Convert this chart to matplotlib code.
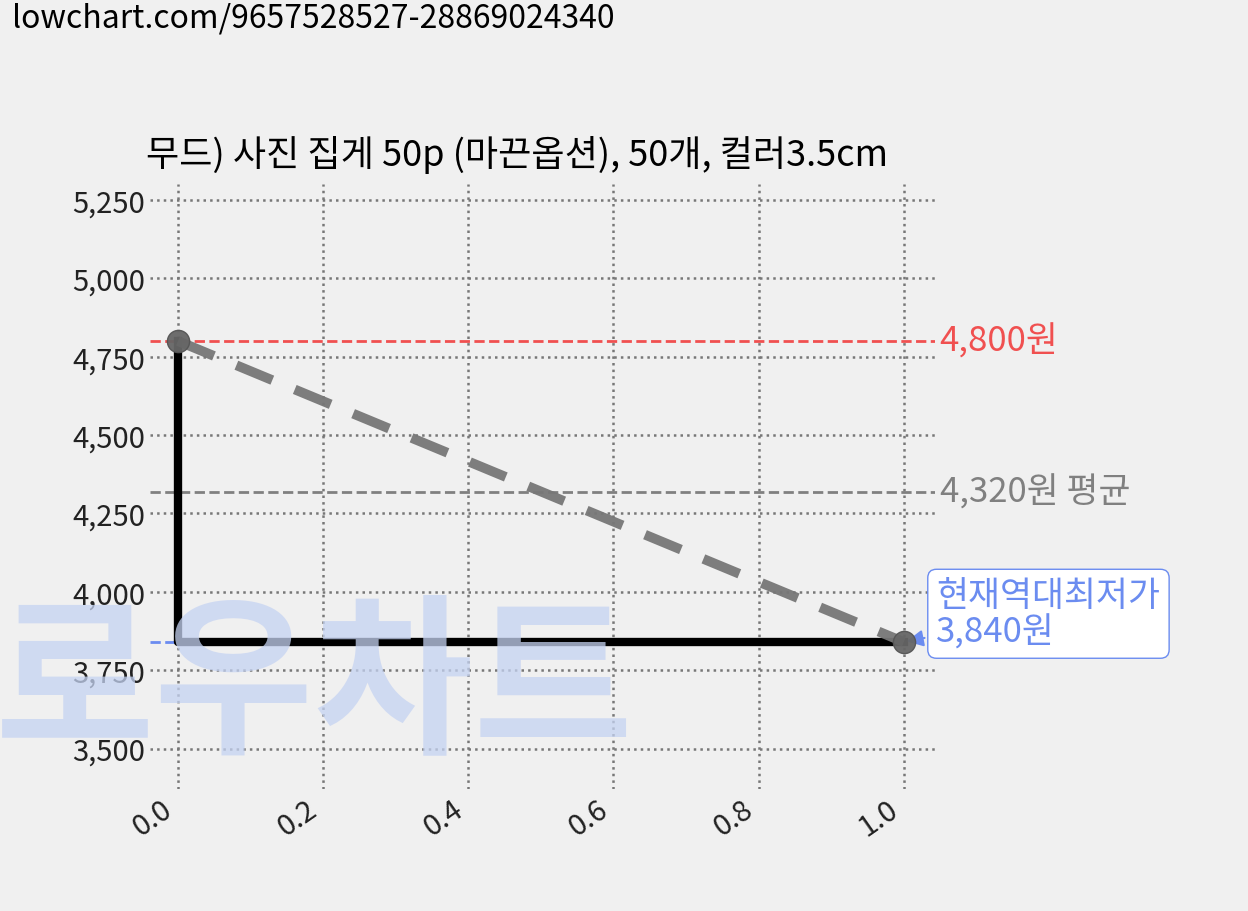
import matplotlib
matplotlib.use("Agg")
import matplotlib.pyplot as plt

plt.rcParams['font.family'] = ['Noto Sans CJK KR', 'DejaVu Sans']

xs = [0.0, 1.0]
prices = [4800, 3840]
max_price = 4800
avg_price = 4320
min_price = 3840
title = "무드) 사진 집게 50p (마끈옵션), 50개, 컬러3.5cm"
url = "lowchart.com/9657528527-28869024340"

fig = plt.figure(figsize=(12.48, 9.12), dpi=100, facecolor='#f0f0f0')
ax = fig.add_axes([150/1248, 1-790/912, (935-150)/1248, (790-185)/912])
ax.set_facecolor('#f0f0f0')
ax.set_xlim(-0.0386, 1.043)
ax.set_ylim(3371, 5301)

fig.text(-5/1248, 1-688/912, "로우차트", fontsize=125, color='#c5d3f2', alpha=0.75,
         fontweight='black', ha='left', va='center', zorder=0)

ax.grid(True, linestyle=':', color='#777777', linewidth=1.8)
for s in ax.spines.values():
    s.set_visible(False)
ax.tick_params(length=0, labelsize=21, colors='#222222')
ax.set_yticks([3500, 3750, 4000, 4250, 4500, 4750, 5000, 5250])
ax.set_yticklabels([f"{v:,}" for v in [3500, 3750, 4000, 4250, 4500, 4750, 5000, 5250]])
ax.set_xticks([0, 0.2, 0.4, 0.6, 0.8, 1.0])
ax.set_xticklabels(["0.0", "0.2", "0.4", "0.6", "0.8", "1.0"], rotation=35, ha='right')

ax.axhline(max_price, color='#f05050', linestyle='--', linewidth=2)
ax.axhline(avg_price, color='#808080', linestyle='--', linewidth=2)
ax.plot([-0.0386, 0.0], [min_price, min_price], color='#6b8cf0', linestyle='--', linewidth=2)
ax.plot(xs, prices, drawstyle='steps-pre', color='black', linewidth=6, zorder=3)
ax.plot(xs, prices, color='#777777', linestyle='--', linewidth=7, dashes=(4, 2.5),
        marker='o', markersize=16, markerfacecolor='#666666', markeredgecolor='#555555', zorder=4, alpha=0.95)

ax.text(1.006, max_price, f"{max_price:,}원", color='#f05050', fontsize=25, va='center',
        transform=ax.get_yaxis_transform(), clip_on=False)
ax.text(1.006, avg_price, f"{avg_price:,}원 평균", color='#808080', fontsize=25, va='center',
        transform=ax.get_yaxis_transform(), clip_on=False)
ax.annotate(f"현재역대최저가\n{min_price:,}원", xy=(1.0, min_price), xytext=(1.045, min_price + 90),
            color='#6b8cf0', fontsize=25, va='center', ha='left', linespacing=1.05,
            bbox=dict(boxstyle='round,pad=0.25', fc='white', ec='#6b8cf0'),
            arrowprops=dict(arrowstyle='-|>', color='#6b8cf0', lw=1.5), annotation_clip=False)

ax.set_title(title, fontsize=26, loc='left', pad=14, x=-0.005)
fig.text(12/1248, 1-18/912, url, fontsize=23, va='center', ha='left')

fig.savefig("out.png", dpi=100, facecolor=fig.get_facecolor())
